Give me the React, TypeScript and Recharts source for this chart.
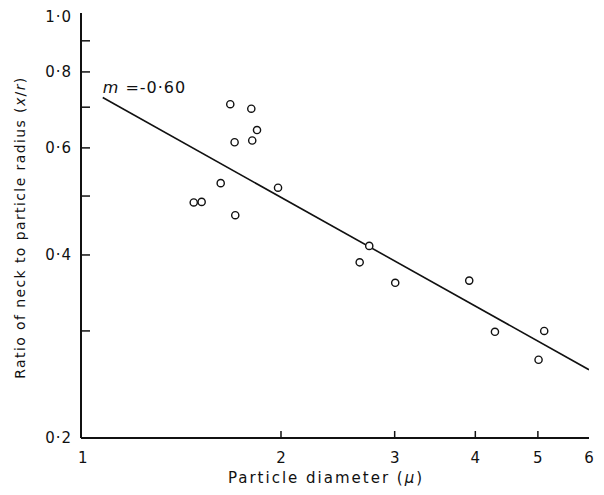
import {
  ComposedChart,
  Scatter,
  Line,
  XAxis,
  YAxis,
  ReferenceDot,
  Label,
} from "recharts";

// particle diameter (micron) and neck/radius ratio
const diameters = [
  1.669, 1.799, 1.836, 1.695, 1.805, 1.613, 1.979, 1.465, 1.507, 1.699,
  2.74, 2.648, 3.006, 3.914, 4.29, 5.114, 5.012,
];
const ratios = [
  0.708, 0.696, 0.642, 0.613, 0.617, 0.525, 0.516, 0.488, 0.489, 0.465,
  0.414, 0.389, 0.36, 0.363, 0.299, 0.3, 0.269,
];

// fitted line endpoints, slope m = -0.60
const fitDiameters = [1.059, 6];
const fitRatios = [0.726, 0.259];

const xTicks = [1, 2, 3, 4, 5, 6];
const yTicks = [0.2, 0.3, 0.4, 0.5, 0.6, 0.7, 0.8, 0.9, 1.0];
const yLabelled = [0.2, 0.4, 0.6, 0.8, 1.0];
const slopeText = "=-0·60";

const points = diameters.map((x, i) => ({ x, y: ratios[i] }));
const fitLine = fitDiameters.map((x, i) => ({ x, y: fitRatios[i] }));

const ink = "#111";
const font = "'DejaVu Sans', sans-serif";

const fmt = (v: number) => v.toFixed(1).replace(".", "·");

const XTick = (props: any) => {
  const { x, y, payload } = props;
  const v = payload.value;
  return (
    <g>
      {v > 1 && v < 6 && <line x1={x} x2={x} y1={y} y2={y - 7} stroke={ink} strokeWidth={1.5} />}
      <text x={v === 1 ? x - 4 : x} y={y + 20} dy="0.35em" textAnchor="middle" fontSize={15} fill={ink} fontFamily={font}>
        {v}
      </text>
    </g>
  );
};

const YTick = (props: any) => {
  const { x, y, payload } = props;
  const v = payload.value;
  const labelled = yLabelled.some((t) => Math.abs(t - v) < 1e-6);
  return (
    <g>
      {v > 0.2 && v < 1 && <line x1={x} x2={x + 9} y1={y} y2={y} stroke={ink} strokeWidth={1.5} />}
      {labelled && (
        <text x={x - 9} y={y} dy="0.35em" textAnchor="end" fontSize={15} fill={ink} fontFamily={font} letterSpacing={1}>
          {fmt(v)}
        </text>
      )}
    </g>
  );
};

const OpenCircle = (props: any) => (
  <circle cx={props.cx} cy={props.cy} r={3.6} fill="#fff" stroke={ink} strokeWidth={1.4} />
);

export default function App() {
  return (
    <ComposedChart
      width={590}
      height={487}
      margin={{ top: 5, right: 9, left: 0, bottom: 7 }}
      style={{ background: "#fff" }}
    >
      <XAxis
        dataKey="x"
        type="number"
        scale="log"
        domain={[0.98, 6]}
        allowDataOverflow
        ticks={xTicks}
        tick={<XTick />}
        tickSize={0}
        tickMargin={0}
        tickLine={false}
        height={50}
        axisLine={{ stroke: ink, strokeWidth: 2 }}
      >
        <Label
          content={(p: any) => {
            const vb = p.viewBox;
            return (
              <text x={vb.x + vb.width / 2 - 9} y={vb.y + 45} textAnchor="middle" fontSize={15} fill={ink} fontFamily={font} letterSpacing={2}>
                Particle diameter (<tspan fontStyle="italic">μ</tspan>)
              </text>
            );
          }}
        />
      </XAxis>
      <YAxis
        dataKey="y"
        type="number"
        scale="log"
        domain={[0.2, 1.0]}
        allowDataOverflow
        ticks={yTicks}
        tick={<YTick />}
        tickSize={0}
        tickMargin={0}
        tickLine={false}
        width={73}
        axisLine={{ stroke: ink, strokeWidth: 2 }}
      >
        <Label
          content={(p: any) => {
            const vb = p.viewBox;
            const cx = 12;
            const cy = vb.y + vb.height / 2 + 2;
            return (
              <text x={cx} y={cy} transform={`rotate(-90 ${cx} ${cy})`} dy="0.35em" textAnchor="middle" fontSize={14} fill={ink} fontFamily={font} letterSpacing={1.4}>
                Ratio of neck to particle radius (<tspan fontStyle="italic">x</tspan>/<tspan fontStyle="italic">r</tspan>)
              </text>
            );
          }}
        />
      </YAxis>
      <XAxis
        xAxisId="top"
        orientation="top"
        type="number"
        dataKey="x"
        scale="log"
        domain={[0.98, 6]}
        allowDataOverflow
        height={0}
        tick={false}
        tickLine={false}
        axisLine={{ stroke: ink, strokeWidth: 2 }}
      />
      <YAxis
        yAxisId="right"
        orientation="right"
        type="number"
        dataKey="y"
        scale="log"
        domain={[0.2, 1.0]}
        allowDataOverflow
        width={0}
        tick={false}
        tickLine={false}
        axisLine={{ stroke: ink, strokeWidth: 2 }}
      />
      <Line
        data={fitLine}
        dataKey="y"
        stroke={ink}
        strokeWidth={1.6}
        dot={false}
        activeDot={false}
        isAnimationActive={false}
      />
      <Scatter data={points} dataKey="y" shape={<OpenCircle />} isAnimationActive={false} />
      <ReferenceDot
        x={fitDiameters[0]}
        y={fitRatios[0]}
        shape={(p: any) => (
          <text x={p.cx} y={p.cy - 5} fontSize={16} fill={ink} fontFamily={font} letterSpacing={1}>
            <tspan fontStyle="italic">m</tspan> {slopeText}
          </text>
        )}
      />
    </ComposedChart>
  );
}
